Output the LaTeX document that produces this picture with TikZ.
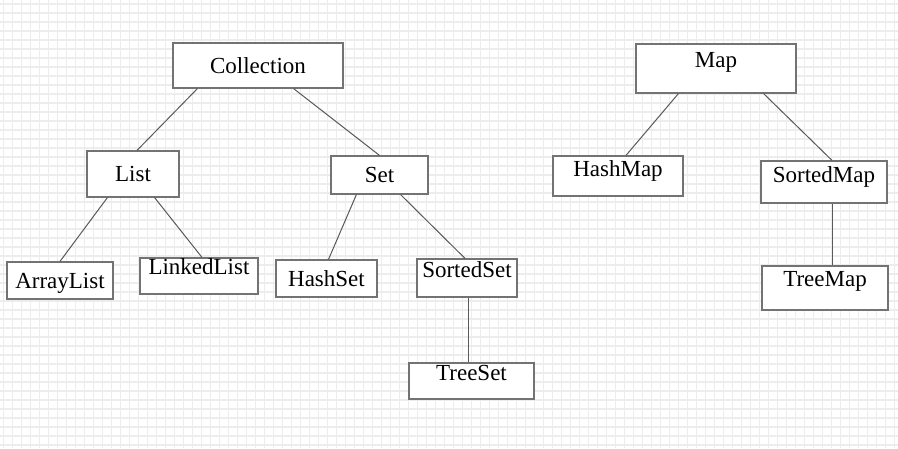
\documentclass[tikz,border=0pt]{standalone}
\usepackage{fontspec}
\setmainfont{Liberation Serif}

\tikzset{
  kasten/.style={draw=black!55, line width=1.2pt, fill=white, inner sep=0pt,
                 text height=16pt, text depth=1pt},
  kante/.style={draw=black!65, line width=1pt},
  raster/.style={draw=black!7, line width=1.5pt},
}

\begin{document}
\begin{tikzpicture}[x=1pt,y=-1pt,font=\fontsize{23}{27}\selectfont]
    \useasboundingbox (0,0) rectangle (898,448);

    % Raster
    \fill[white] (0,0) rectangle (898,448);
    \foreach \k in {0,...,99}
        \draw[raster] (3.5+9*\k,0) -- (3.5+9*\k,448);
    \foreach \k in {0,...,49}
        \draw[raster] (0,4+9*\k) -- (898,4+9*\k);

    % Collection
    \node[kasten, minimum width=170pt, minimum height=45pt] (coll) at (258,65.5) {Collection};
    \node[kasten, minimum width=92pt, minimum height=46pt] (list) at (133,174) {List};
    \node[kasten, minimum width=97pt, minimum height=38pt] (set) at (379.5,175) {Set};
    \node[kasten, minimum width=106pt, minimum height=37pt] (arr) at (60,280.5) {ArrayList};
    \node[kasten, minimum width=118pt, minimum height=36pt, text depth=19pt] (lnk) at (199,276) {LinkedList};
    \node[kasten, minimum width=101pt, minimum height=37pt] (hset) at (326.5,278.5) {HashSet};
    \node[kasten, minimum width=100pt, minimum height=38pt, text depth=17pt] (sset) at (467,278) {SortedSet};
    \node[kasten, minimum width=125pt, minimum height=36pt, text depth=18pt] (tset) at (471.5,381) {TreeSet};

    % Map
    \node[kasten, minimum width=160pt, minimum height=49pt, text depth=18pt] (map) at (716,68.5) {Map};
    \node[kasten, minimum width=130pt, minimum height=40pt, text depth=16pt] (hmap) at (618,176) {HashMap};
    \node[kasten, minimum width=126pt, minimum height=42pt, text depth=16pt] (smap) at (824,182) {SortedMap};
    \node[kasten, minimum width=126pt, minimum height=44pt, text depth=20pt] (tmap) at (825,288) {TreeMap};

    % Verbindungen
    \draw[kante] ([xshift=25pt]coll.south west) -- ([xshift=4pt]list.north);
    \draw[kante] ([xshift=-50pt]coll.south east) -- (set.north);
    \draw[kante] ([xshift=21pt]list.south west) -- (arr.north);
    \draw[kante] ([xshift=-25pt]list.south east) -- ([xshift=3pt]lnk.north);
    \draw[kante] ([xshift=26pt]set.south west) -- ([xshift=2pt]hset.north);
    \draw[kante] ([xshift=-28pt]set.south east) -- ([xshift=-2pt]sset.north);
    \draw[kante] ([xshift=1pt]sset.south) -- ([xshift=1pt]sset.south |- tset.north);
    \draw[kante] ([xshift=43pt]map.south west) -- ([xshift=8pt]hmap.north);
    \draw[kante] ([xshift=-33pt]map.south east) -- ([xshift=8pt]smap.north);
    \draw[kante] ([xshift=8pt]smap.south) -- ([xshift=7pt]tmap.north);
\end{tikzpicture}
\end{document}
